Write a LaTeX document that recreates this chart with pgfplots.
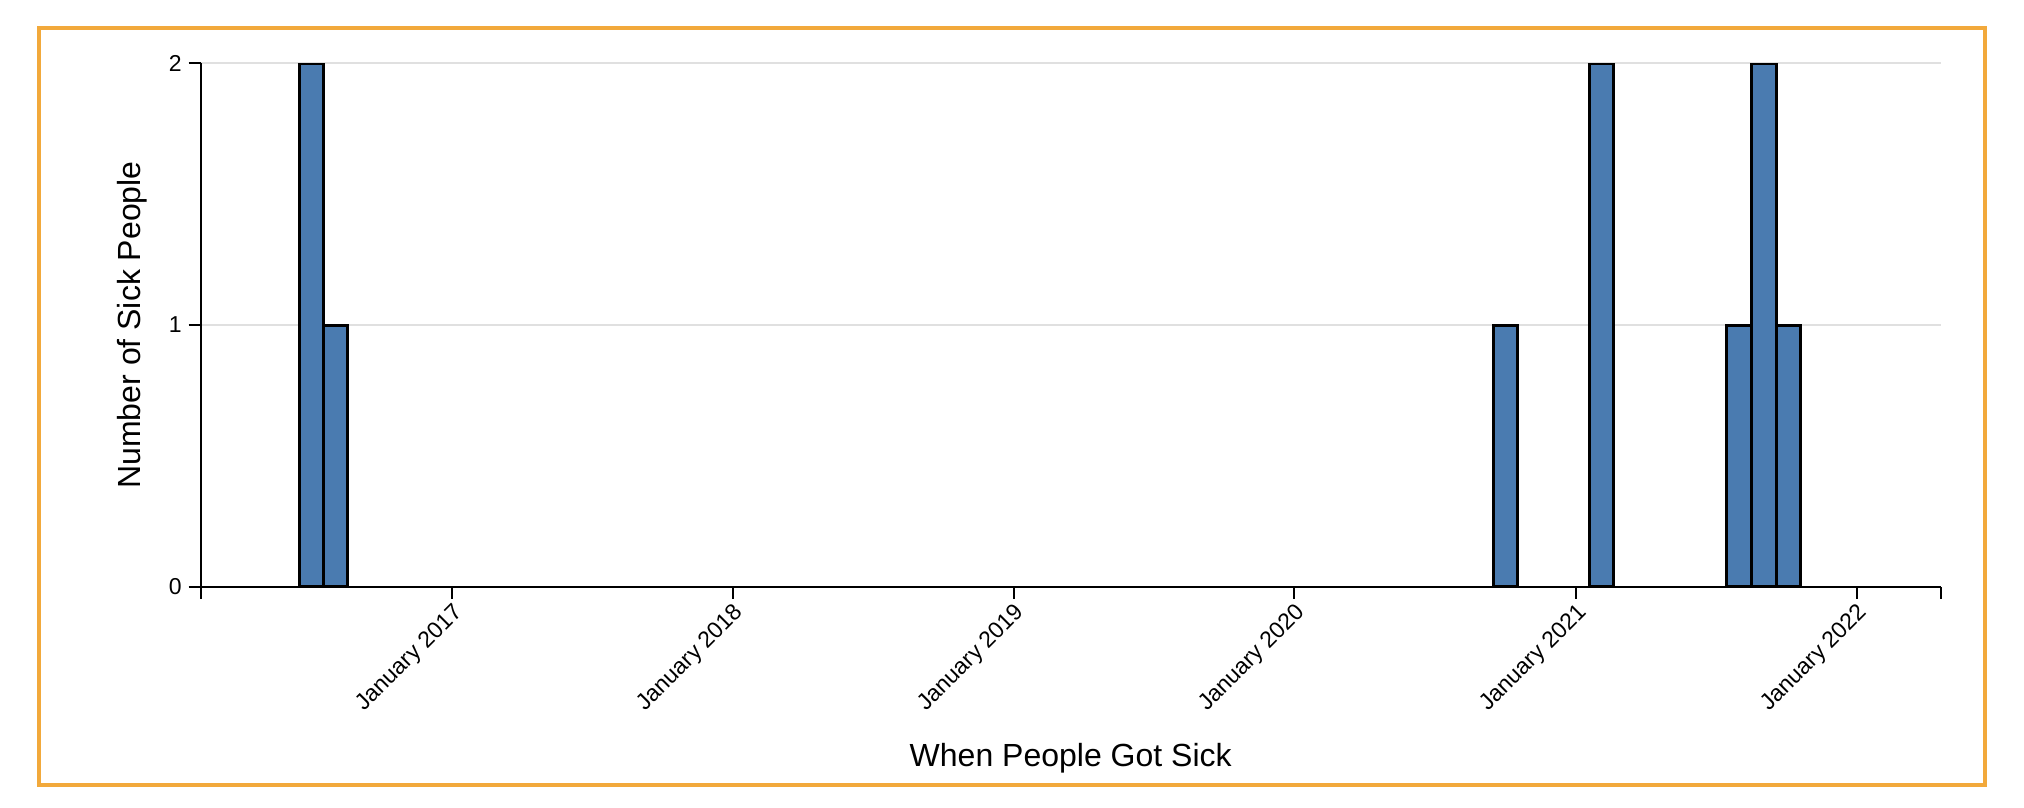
\documentclass[border=0pt]{standalone}
\usepackage{fontspec}
\setmainfont{Liberation Sans}
\usepackage{pgfplots}
\pgfplotsset{compat=1.18}
\definecolor{barblue}{RGB}{74,123,176}
\definecolor{frameorange}{RGB}{242,169,59}
\definecolor{gridgray}{RGB}{224,224,224}
\begin{document}
\begin{tikzpicture}[x=0.5pt,y=-0.5pt]
\path[use as bounding box] (0,0) rectangle (2024,808);
\draw[frameorange, line width=2pt] (38.5,28.5) rectangle (1985,785);
\coordinate (O) at (200.7,586.7);
\begin{axis}[
  at={(O)}, anchor=south west,
  scale only axis, width=870pt, height=261.7pt,
  xmin=-326.5, xmax=1935.2, ymin=0, ymax=2,
  axis lines*=left,
  axis line style={line width=1pt, black},
  xtick={0,365,730,1095,1461,1826},
  xticklabels={January 2017,January 2018,January 2019,January 2020,January 2021,January 2022},
  extra x ticks={-326.5,1935.2},
  extra x tick labels={},
  ytick={0,1,2},
  ymajorgrids=true,
  grid style={gridgray, line width=1pt},
  tick align=outside,
  major tick length=6pt,
  tick style={black, line width=1pt},
  /pgf/number format/assume math mode=true,
  xticklabel style={yshift=3.5pt, rotate=45, anchor=north east, font=\fontsize{11.5}{13}\selectfont},
  yticklabel style={font=\fontsize{11.5}{13}\selectfont},
  xlabel={When People Got Sick},
  ylabel={Number of Sick People},
  xlabel style={at={(axis description cs:0.5,-0.3426)}, anchor=base, font=\fontsize{16}{19}\selectfont},
  ylabel style={at={(axis description cs:-0.0346,0.5)}, anchor=base, rotate=0, font=\fontsize{16}{19}\selectfont},
]
\addplot[ybar interval, fill=barblue, draw=black, line width=1.5pt] coordinates {(-198.35,2) (-166.25,1) (-135.44,0)};
\addplot[ybar interval, fill=barblue, draw=black, line width=1.5pt] coordinates {(1353.6,1) (1385.3,0)};
\addplot[ybar interval, fill=barblue, draw=black, line width=1.5pt] coordinates {(1478.4,2) (1509.6,0)};
\addplot[ybar interval, fill=barblue, draw=black, line width=1.5pt] coordinates {(1657.0,1) (1689.5,2) (1721.1,1) (1752.3,0)};
\end{axis}
\end{tikzpicture}
\end{document}
